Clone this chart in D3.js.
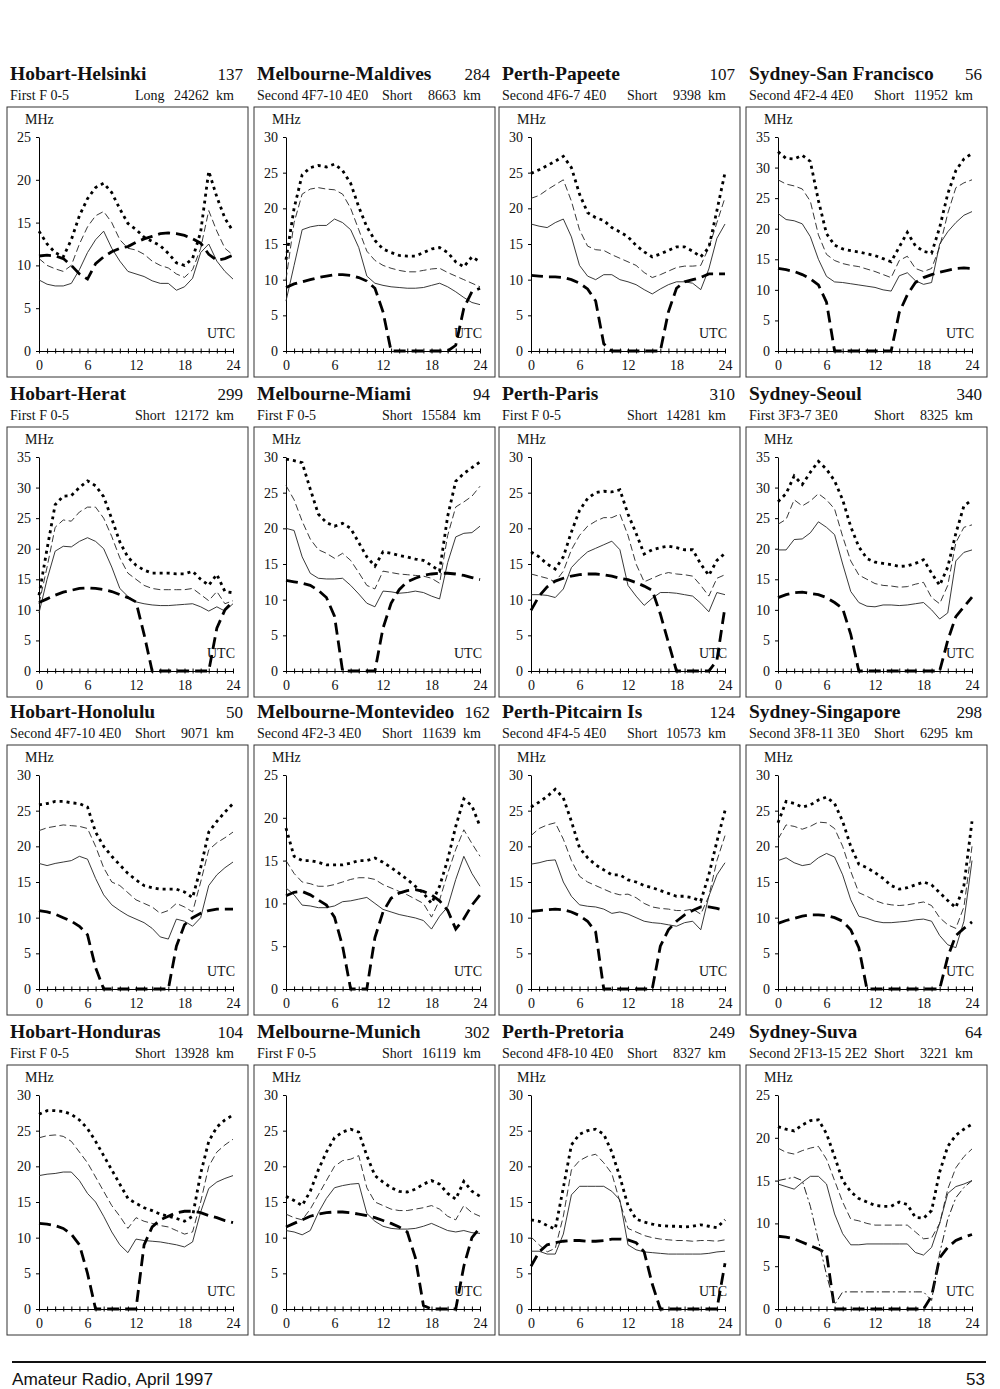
<!DOCTYPE html>
<html>
<head>
<meta charset="utf-8">
<title>HF propagation predictions - April 1997</title>
<style>
  body { margin: 0; background: white; }
  svg { display: block; }
  text { font-family: "Liberation Serif", "Times New Roman", serif; fill: #111; }
  .title { font-size: 19.5px; font-weight: bold; }
  .num { font-size: 17px; }
  .sub { font-size: 14px; }
  .lbl { font-size: 14px; }
  .tick text { font-size: 14px; }
  .box { fill: none; stroke: #333; stroke-width: 1; }
  .footer { font-family: "Liberation Sans Narrow", "Arial Narrow", "Liberation Sans", sans-serif; font-size: 17px; }
</style>
<script src="https://cdn.jsdelivr.net/npm/d3@7"></script>
</head>
<body>
<div id="page"></div>
<script>
// --- chart data ---

var hours = [0, 1, 2, 3, 4, 5, 6, 7, 8, 9, 10, 11, 12, 13, 14, 15, 16, 17, 18, 19, 20, 21, 22, 23, 24];
var xLabels = [0, 6, 12, 18, 24];

var paths = ['Hobart-Helsinki', 'Melbourne-Maldives', 'Perth-Papeete', 'Sydney-San Francisco',
             'Hobart-Herat', 'Melbourne-Miami', 'Perth-Paris', 'Sydney-Seoul',
             'Hobart-Honolulu', 'Melbourne-Montevideo', 'Perth-Pitcairn Is', 'Sydney-Singapore',
             'Hobart-Honduras', 'Melbourne-Munich', 'Perth-Pretoria', 'Sydney-Suva'];
var bearings = [137, 284, 107, 56, 299, 94, 310, 340, 50, 162, 124, 298, 104, 302, 249, 64];
var modes = ['First F 0-5', 'Second 4F7-10 4E0', 'Second 4F6-7 4E0', 'Second 4F2-4 4E0',
             'First F 0-5', 'First F 0-5', 'First F 0-5', 'First 3F3-7 3E0',
             'Second 4F7-10 4E0', 'Second 4F2-3 4E0', 'Second 4F4-5 4E0', 'Second 3F8-11 3E0',
             'First F 0-5', 'First F 0-5', 'Second 4F8-10 4E0', 'Second 2F13-15 2E2'];
var routes = ['Long', 'Short', 'Short', 'Short', 'Short', 'Short', 'Short', 'Short',
              'Short', 'Short', 'Short', 'Short', 'Short', 'Short', 'Short', 'Short'];
var distances = ['24262', '8663', '9398', '11952', '12172', '15584', '14281', '8325',
                 '9071', '11639', '10573', '6295', '13928', '16119', '8327', '3221'];
var yMax = [25, 30, 30, 35, 35, 30, 30, 35, 30, 25, 30, 30, 30, 30, 30, 25];

// heavy dotted curve
var upper = [
  [14, 12.5, 11.5, 11, 13, 15.8, 17.8, 19.1, 19.6, 18.5, 16.6, 14.9, 14.2, 13.3, 12.8, 12.3, 11.4, 10.3, 10, 10.8, 13.9, 21, 18, 15.5, 14],
  [12.8, 20, 24.7, 25.7, 26, 25.8, 26.2, 25.3, 23.5, 20.2, 17.4, 15.5, 14.3, 13.8, 13.4, 13.3, 13.3, 13.8, 14.3, 14.5, 13.8, 12.5, 11.8, 13.2, 12.5],
  [24.9, 25.4, 26, 26.6, 27.3, 25.7, 22, 19.4, 18.7, 18.3, 17.3, 16.7, 16, 14.8, 13.9, 13.2, 13.6, 14.1, 14.6, 14.6, 14, 13.2, 14.5, 19.7, 25],
  [32.6, 31.5, 31.4, 32, 31, 24.6, 19.2, 17.3, 16.7, 16.4, 16.2, 15.9, 15.6, 15.1, 14.6, 17, 19.4, 17.2, 16.3, 16, 20.2, 25.7, 29.5, 31.4, 32.3],
  [12.4, 20, 27.2, 28.6, 28.7, 30, 31.1, 30.3, 28.5, 24.9, 21.1, 18.6, 17.3, 16.5, 16, 16, 16, 15.9, 15.9, 16.3, 15, 14, 15.8, 13, 12.8],
  [29.7, 29.5, 29.2, 25.5, 22, 20.8, 20.3, 20.7, 20, 18, 16, 14.7, 16.7, 16.5, 16.2, 16, 15.7, 15.5, 14.8, 14, 21.7, 26.6, 27.7, 28.5, 29.3],
  [16.7, 16, 15, 14.3, 16, 19.5, 22.5, 24.2, 25, 25.2, 25.1, 25.4, 22, 19.3, 16.4, 17, 17.3, 17.5, 17.3, 17, 17, 15, 13.4, 15.5, 16.5],
  [27.7, 29, 31.9, 30.5, 32.5, 34.3, 33, 31.1, 28, 23.6, 20.3, 18.4, 17.8, 17.6, 17.4, 17.1, 17.2, 17.6, 18.2, 16, 14, 17, 22.5, 27, 28],
  [25.8, 26, 26.3, 26.3, 26.1, 26, 25.5, 22, 20, 18.6, 17.4, 16.2, 15.3, 14.5, 14.2, 14, 14, 14, 13.6, 12.8, 17, 22, 23.5, 24.8, 26],
  [18.8, 15.5, 15, 15, 14.8, 14.5, 14.5, 14.5, 14.7, 15, 15, 15.3, 14.8, 14.2, 13.5, 12.8, 12, 11.2, 10, 12, 15.1, 19, 22.2, 21.4, 19],
  [25.5, 26.2, 27, 28, 26.8, 23.5, 19.8, 18.4, 17.4, 16.7, 16, 16, 15.3, 15, 14.5, 14.2, 13.8, 13.4, 13, 13, 12.8, 12.3, 16, 20.7, 25],
  [23.3, 26.3, 26, 25.5, 25.8, 26.5, 26.9, 26, 23.5, 20, 17.5, 17, 16.3, 15.5, 14.5, 14, 14.2, 14.6, 15, 14.6, 13.5, 12.4, 11.4, 14.5, 23.5],
  [27.3, 27.8, 27.8, 27.7, 27.3, 26.5, 25.3, 23.5, 21.5, 19.5, 17.5, 15.5, 14.8, 14.2, 13.8, 13.3, 13, 12.7, 12.3, 13, 19, 23.5, 25.5, 26.5, 27.2],
  [15.8, 15.2, 14.5, 16.5, 19.5, 22, 24, 24.8, 25.2, 24.8, 21.5, 18.7, 17.8, 17, 16.5, 16.4, 16.8, 17.5, 18, 17.5, 16.2, 15.4, 17.9, 16.5, 15.8],
  [12.5, 12.3, 11.7, 11.2, 17, 23, 24.5, 25, 25.2, 24.5, 22, 18.5, 14.5, 12.6, 12.2, 11.9, 11.7, 11.6, 11.6, 11.5, 11.6, 11.8, 11.6, 11.4, 12.5],
  [21.3, 21, 20.8, 21.5, 22, 22.1, 20.5, 17.8, 15, 13.7, 12.9, 12.5, 12.1, 12, 12, 12.5, 12.2, 10.7, 10.6, 11.5, 16, 19, 20.3, 21, 21.6]
];

// thin dashed curve
var median = [
  [10.8, 10, 9.6, 9.3, 10, 12.5, 14.5, 15.8, 16.3, 15, 13, 12, 11.8, 11.3, 10.5, 10, 9.7, 9, 8.6, 9.5, 12, 16.4, 14, 12, 11.2],
  [10, 18, 22, 22.7, 22.9, 22.7, 22.6, 22, 20, 17, 14, 12.7, 12, 11.6, 11.3, 11.1, 11.1, 11.3, 11.5, 11.6, 11, 10.5, 10, 9.5, 9],
  [21.4, 21.8, 22.6, 23.3, 24, 21, 17, 14.7, 14.2, 14.1, 13.5, 13, 12.5, 12, 11, 10.3, 10.7, 11.2, 11.7, 11.9, 11.9, 12, 14.5, 18, 21.5],
  [28, 27.3, 27, 26.5, 24.5, 19, 15.8, 14.8, 14.3, 14, 13.8, 13.4, 13, 12.5, 12, 14.8, 15.5, 13.5, 13, 13.5, 17, 22.5, 26.7, 27.5, 28],
  [11, 17, 23.5, 24.7, 24.5, 26, 26.8, 26.8, 25, 22, 18.5, 16, 15, 14, 13.5, 13.3, 13.3, 13.3, 13.3, 13.5, 12.5, 11.5, 13, 11, 11.5],
  [26, 24, 21, 18.5, 17, 16.5, 15.8, 16.5, 15.5, 13.8, 12, 11.5, 14, 13.8, 13.6, 13.5, 13.4, 13.3, 13, 12.3, 19, 23, 23.7, 24.5, 25.9],
  [13.6, 13.3, 13, 12.5, 14, 17, 19, 20.3, 21, 21.5, 21.5, 22, 19, 15, 12.5, 13, 13.5, 13.8, 13.6, 13.5, 13.3, 12, 10.5, 13, 13.5],
  [24, 24.8, 28, 27, 27.8, 29, 28, 26.5, 22, 18, 15.7, 15, 14.3, 14, 13.9, 13.7, 13.8, 14.2, 14.5, 12, 11, 14, 21, 23.5, 23.9],
  [22.2, 22.6, 22.8, 23, 22.9, 22.8, 22.5, 20, 17, 15, 14.5, 13.5, 12.5, 12, 11.5, 10.6, 11, 12, 11.5, 10.8, 15, 19.5, 20.5, 21.2, 22],
  [15, 13.5, 12.5, 12.3, 12, 12, 12.2, 12.5, 12.8, 13, 13, 12.8, 12.2, 11.8, 11.4, 11, 10.5, 10, 8.4, 10.4, 13.5, 16.3, 18.6, 17, 15.5],
  [21.5, 22.5, 23, 23.3, 21, 18, 15.8, 15, 14.5, 14, 13.5, 13.2, 13.3, 12.8, 12, 11.5, 11.3, 11.2, 11, 11, 11.2, 10.5, 13, 18, 21.5],
  [21, 23, 22.8, 22.4, 22.8, 23.4, 23.3, 22.5, 20, 16.5, 13.5, 13, 12.4, 12, 11.8, 11.7, 11.8, 12, 12.2, 11.7, 10, 9, 8.5, 11.5, 20],
  [24, 24.3, 24.4, 24.2, 23.5, 22, 20.5, 18.5, 16.5, 14.5, 13, 11.3, 12.8, 12.3, 12, 11.7, 11.5, 11, 10.5, 10.8, 15, 20, 22, 23, 23.8],
  [13.3, 12.8, 12.5, 14, 16, 18, 20, 20.8, 21, 21.5, 17, 15, 14.5, 14, 13.8, 13.8, 14, 14.2, 14.5, 14, 13, 12.5, 14.5, 13.5, 13],
  [10.1, 9, 8, 8.5, 13, 19.5, 20.8, 21.4, 21.7, 20.5, 19, 15, 11.3, 10.8, 10.3, 10, 9.8, 9.7, 9.6, 9.6, 9.5, 9.6, 9.6, 9.5, 9.7],
  [18.8, 18.3, 18.1, 18.5, 18.8, 19, 17.5, 15, 12.5, 10.5, 10.3, 10, 9.8, 9.8, 9.8, 9.8, 9.8, 9, 8.2, 8.3, 10, 14, 16.5, 17.8, 18.7]
];

// thin solid curve
var lower = [
  [8.3, 7.8, 7.6, 7.6, 7.9, 9.5, 11.5, 13, 14, 12, 10.5, 9.3, 9, 8.7, 8.2, 7.9, 7.9, 7.1, 7.5, 8.5, 11.5, 12.5, 10.5, 9.3, 8.4],
  [7, 12, 17, 17.4, 17.6, 17.6, 18.5, 18, 17, 14.5, 10.5, 9.5, 9.2, 9, 8.9, 8.8, 8.8, 8.9, 9.2, 9.5, 9, 8.3, 7.5, 6.8, 6.5],
  [17.8, 17.5, 17.3, 18, 18.5, 16, 12, 10.5, 10, 10.7, 10.7, 10, 9.7, 9.3, 8.6, 8, 8.7, 9.3, 9.7, 9.7, 9.5, 8.6, 11.5, 15.8, 17.8],
  [22.5, 21.5, 21.3, 20.8, 18.7, 15, 12.2, 11.3, 11.2, 11, 10.8, 10.6, 10.4, 10, 9.8, 12.3, 12.8, 11.5, 10.9, 11.2, 17.5, 19.5, 21, 22.2, 22.8],
  [9.5, 15, 19.6, 20.4, 20.3, 21.2, 21.8, 21.2, 20, 17, 13.5, 12.2, 11.3, 11, 10.8, 10.7, 10.7, 10.8, 10.9, 11, 10.5, 9.8, 10.5, 9.8, 11],
  [20, 19.7, 16, 13.7, 13, 12.9, 12.9, 13, 12, 10.8, 9.5, 9, 11.2, 11.1, 10.9, 11, 11.2, 11, 10.5, 10.1, 15.2, 18.8, 19.3, 19.4, 20.3],
  [10.7, 10.7, 10.6, 10.3, 11.5, 14.5, 15.7, 16.7, 17.2, 17.7, 18.2, 17, 12, 10.5, 9.2, 10.2, 11, 11, 10.9, 10.7, 10.5, 9.5, 8.3, 11, 10.7],
  [19.8, 19.8, 21.5, 21.6, 22.6, 24.4, 23.5, 22.3, 17.5, 13, 11.2, 10.6, 10.5, 10.8, 10.8, 10.7, 10.8, 11, 11.2, 10, 8.5, 9.5, 18, 19.4, 19.8],
  [17.6, 17.3, 17.6, 17.8, 18, 18.6, 18.2, 15.5, 13.2, 11.8, 11, 10.3, 9.8, 9.3, 8.5, 7.3, 7, 9.8, 9.5, 8.8, 10, 14.5, 16, 17, 17.8],
  [11.8, 11, 9.8, 9.7, 9.5, 9.5, 9.7, 10.2, 10.3, 10.5, 10.7, 10, 9.3, 9, 8.7, 8.5, 8.3, 8, 7, 8.5, 9.6, 12.8, 15.5, 13.5, 12],
  [17.5, 17.7, 18, 18.1, 15, 13, 11.8, 11.6, 11.5, 11.2, 10.6, 10.8, 10.5, 10, 9.5, 9.3, 9.2, 9, 8.8, 9.3, 9.5, 8.3, 13, 16, 17.7],
  [18, 18.4, 17.7, 17.3, 17.5, 18.4, 19, 18.5, 16, 12.5, 10.2, 9.9, 9.5, 9.3, 9.3, 9.4, 9.5, 9.7, 9.8, 9.5, 7.5, 6.2, 5.8, 9.5, 18],
  [18.7, 18.9, 19, 19.2, 19.2, 18, 16.2, 15, 13, 10.8, 9, 7.9, 9.8, 9.6, 9.5, 9.4, 9.2, 9, 8.7, 9.4, 13.6, 16.9, 17.8, 18.3, 18.7],
  [11, 10.8, 10.4, 11, 13.5, 15.5, 17, 17.3, 17.5, 17.6, 13.4, 12.3, 11.6, 11.3, 11.2, 11.2, 11.3, 11.6, 12, 11.5, 11, 10.8, 11, 10.7, 10.6],
  [8.1, 8.1, 7.7, 7.7, 10.5, 16, 17.2, 17.2, 17.2, 17.2, 16.5, 15.3, 9, 8.3, 8, 7.9, 7.8, 7.7, 7.7, 7.7, 7.7, 7.7, 7.8, 8, 8.1],
  [14.6, 14.3, 14, 14.8, 15.5, 15.5, 14.6, 11.1, 8.8, 7.5, 7.5, 7.6, 7.6, 7.6, 7.6, 7.6, 7.6, 6.6, 6.3, 7.2, 10, 13.5, 14.3, 14.6, 15]
];

// heavy dashed curve
var lowest = [
  [11.1, 11.2, 11.1, 10.8, 10, 9, 8.4, 10.2, 11, 11.6, 12, 12.2, 12.7, 13.1, 13.4, 13.7, 13.8, 13.7, 13.5, 13.1, 12.6, 11.3, 10.6, 10.8, 11.2],
  [8.9, 9.4, 9.7, 10, 10.3, 10.5, 10.7, 10.7, 10.6, 10.3, 9.8, 8.8, 5.5, 0, 0, 0, 0, 0, 0, 0, 0, 0.8, 6, 8.3, 8.8],
  [10.6, 10.5, 10.4, 10.4, 10.3, 10, 9.5, 8.7, 7, 1, 0, 0, 0, 0, 0, 0, 0, 5.5, 8.8, 9.7, 10, 10.3, 10.8, 10.8, 10.8],
  [13.5, 13.3, 13, 12.5, 11.8, 10.8, 8, 0, 0, 0, 0, 0, 0, 0, 0, 6.3, 9.2, 11.2, 12, 12.5, 12.9, 13.2, 13.5, 13.6, 13.5],
  [11.2, 11.8, 12.4, 12.9, 13.2, 13.5, 13.6, 13.5, 13.3, 13, 12.5, 12, 11.3, 6, 0, 0, 0, 0, 0, 0, 0, 0, 7, 10, 11.4],
  [12.7, 12.5, 12.3, 12, 11.3, 10.3, 7.7, 0, 0, 0, 0, 0, 6, 9.5, 11.4, 12.5, 13, 13.4, 13.6, 13.7, 13.7, 13.6, 13.4, 13.1, 12.8],
  [8.5, 10.5, 11.8, 12.6, 13, 13.3, 13.5, 13.6, 13.6, 13.5, 13.3, 13, 12.8, 12.4, 11.9, 11.3, 8, 4, 0, 0, 0, 0, 0, 1.5, 9],
  [12, 12.5, 12.8, 12.9, 12.7, 12.5, 12, 11.2, 10.2, 6, 0, 0, 0, 0, 0, 0, 0, 0, 0, 0, 0, 5, 8.9, 10.5, 12.1],
  [11, 10.8, 10.5, 10, 9.5, 8.8, 7.6, 3, 0, 0, 0, 0, 0, 0, 0, 0, 0, 6, 9, 10, 10.6, 11, 11.2, 11.2, 11.2],
  [10.9, 11.3, 11.4, 11, 10.4, 9.8, 8.4, 5, 0, 0, 0, 6, 9, 10.6, 11.2, 11.5, 11.6, 11.4, 11, 10.3, 9.2, 7, 8.2, 9.8, 11],
  [10.9, 11, 11.1, 11.2, 11.1, 10.8, 10.3, 9.5, 8, 0, 0, 0, 0, 0, 0, 0, 6, 8.3, 9.5, 10.4, 11, 11.5, 11.5, 11.3, 11],
  [9.2, 9.6, 9.9, 10.2, 10.4, 10.4, 10.3, 10, 9.5, 8.3, 5.8, 0, 0, 0, 0, 0, 0, 0, 0, 0, 0, 4.5, 7.5, 8.5, 9.4],
  [12, 11.9, 11.7, 11.3, 10.5, 9, 5, 0, 0, 0, 0, 0, 0, 9, 11.5, 12.5, 13, 13.5, 13.7, 13.7, 13.5, 13.1, 12.8, 12.4, 12.1],
  [11.5, 12, 12.5, 13, 13.3, 13.5, 13.6, 13.6, 13.5, 13.3, 13.1, 12.8, 12.4, 12, 11.5, 10.8, 7.2, 0.5, 0, 0, 0, 0, 6, 10, 11.4],
  [6, 8, 9, 9.3, 9.5, 9.6, 9.6, 9.5, 9.5, 9.6, 9.8, 9.8, 9.7, 9.3, 8, 3.5, 0, 0, 0, 0, 0, 0, 0, 0, 6.4],
  [8.5, 8.4, 8.2, 7.8, 7.4, 7, 6.5, 0, 0, 0, 0, 0, 0, 0, 0, 0, 0, 0, 0, 1.5, 6, 7.2, 8, 8.4, 8.7]
];

// dash-dot curve, Sydney-Suva only (2E mode)
var suvaE = [15, 15.2, 15.4, 15, 12, 8, 4, 0.5, 2, 2, 2, 2, 2, 2, 2, 2, 2, 2, 2, 1, 6.5, 10.5, 13, 14.2, 15];

// --- layout ---
var colLeft = [7, 254, 499, 746];
var rowTop = [107, 427, 745, 1065];
var BOX_W = 241, BOX_H = 270;

var svg = d3.select('#page').append('svg')
    .attr('width', 1000)
    .attr('height', 1389);

svg.append('rect')
    .attr('width', 1000)
    .attr('height', 1389)
    .attr('fill', 'white');

var styles = [
  { data: lower,  width: 0.9, dash: null,      color: '#222' },
  { data: median, width: 0.9, dash: '7 3.5',   color: '#222' },
  { data: upper,  width: 2.8, dash: '3 4',     color: '#000' },
  { data: lowest, width: 2.8, dash: '12 6',    color: '#000' }
];

paths.forEach(function(name, i) {
  var left = colLeft[i % 4];
  var top = rowTop[Math.floor(i / 4)];
  var g = svg.append('g');

  // heading
  g.append('text').attr('class', 'title')
      .attr('x', left + 3).attr('y', top - 27).text(name);
  g.append('text').attr('class', 'num')
      .attr('x', left + 236).attr('y', top - 27)
      .attr('text-anchor', 'end').text(bearings[i]);
  g.append('text').attr('class', 'sub')
      .attr('x', left + 3).attr('y', top - 7).text(modes[i]);
  g.append('text').attr('class', 'sub')
      .attr('x', left + 128).attr('y', top - 7).text(routes[i]);
  g.append('text').attr('class', 'sub')
      .attr('x', left + 227).attr('y', top - 7)
      .attr('text-anchor', 'end').text(distances[i] + '  km')
      .style('white-space', 'pre');

  g.append('rect').attr('class', 'box')
      .attr('x', left).attr('y', top)
      .attr('width', BOX_W).attr('height', BOX_H);

  var x = d3.scaleLinear().domain([0, 24]).range([left + 32, left + 226]);
  var y = d3.scaleLinear().domain([0, yMax[i]]).range([top + 244, top + 30]);

  var yAxis = d3.axisLeft(y)
      .tickValues(d3.range(0, yMax[i] + 1, 5))
      .tickSize(3).tickSizeOuter(0).tickPadding(5);
  g.append('g')
      .attr('transform', 'translate(' + x(0) + ',0)')
      .call(yAxis)
      .attr('font-family', null).attr('font-size', null);

  var xAxis = d3.axisBottom(x)
      .tickValues(hours)
      .tickSize(3).tickSizeOuter(0).tickPadding(6)
      .tickFormat(function(d) { return xLabels.indexOf(d) >= 0 ? d : ''; });
  var xg = g.append('g')
      .attr('transform', 'translate(0,' + y(0) + ')')
      .call(xAxis)
      .attr('font-family', null).attr('font-size', null);
  xg.selectAll('.tick line').attr('y1', -2.5).attr('y2', 2.5);

  g.append('text').attr('class', 'lbl')
      .attr('x', left + 18).attr('y', top + 17).text('MHz');
  g.append('text').attr('class', 'lbl')
      .attr('x', left + 228).attr('y', y(0) - 13)
      .attr('text-anchor', 'end').text('UTC');

  var line = d3.line()
      .x(function(d, j) { return x(hours[j]); })
      .y(function(d) { return y(d); });

  styles.forEach(function(s) {
    g.append('path')
        .datum(s.data[i])
        .attr('d', line)
        .attr('fill', 'none')
        .attr('stroke', s.color)
        .attr('stroke-width', s.width)
        .attr('stroke-dasharray', s.dash);
  });

  if (name === 'Sydney-Suva') {
    g.append('path')
        .datum(suvaE)
        .attr('d', line)
        .attr('fill', 'none')
        .attr('stroke', '#222')
        .attr('stroke-width', 1)
        .attr('stroke-dasharray', '8 3 2 3');
  }
});

// page footer
svg.append('line')
    .attr('x1', 12).attr('x2', 986)
    .attr('y1', 1362).attr('y2', 1362)
    .attr('stroke', '#111').attr('stroke-width', 2);
svg.append('text').attr('class', 'footer')
    .attr('x', 12).attr('y', 1385)
    .attr('textLength', 201).attr('lengthAdjust', 'spacingAndGlyphs')
    .text('Amateur Radio, April 1997');
svg.append('text').attr('class', 'footer')
    .attr('x', 985).attr('y', 1385)
    .attr('text-anchor', 'end')
    .text('53');
</script>
</body>
</html>
